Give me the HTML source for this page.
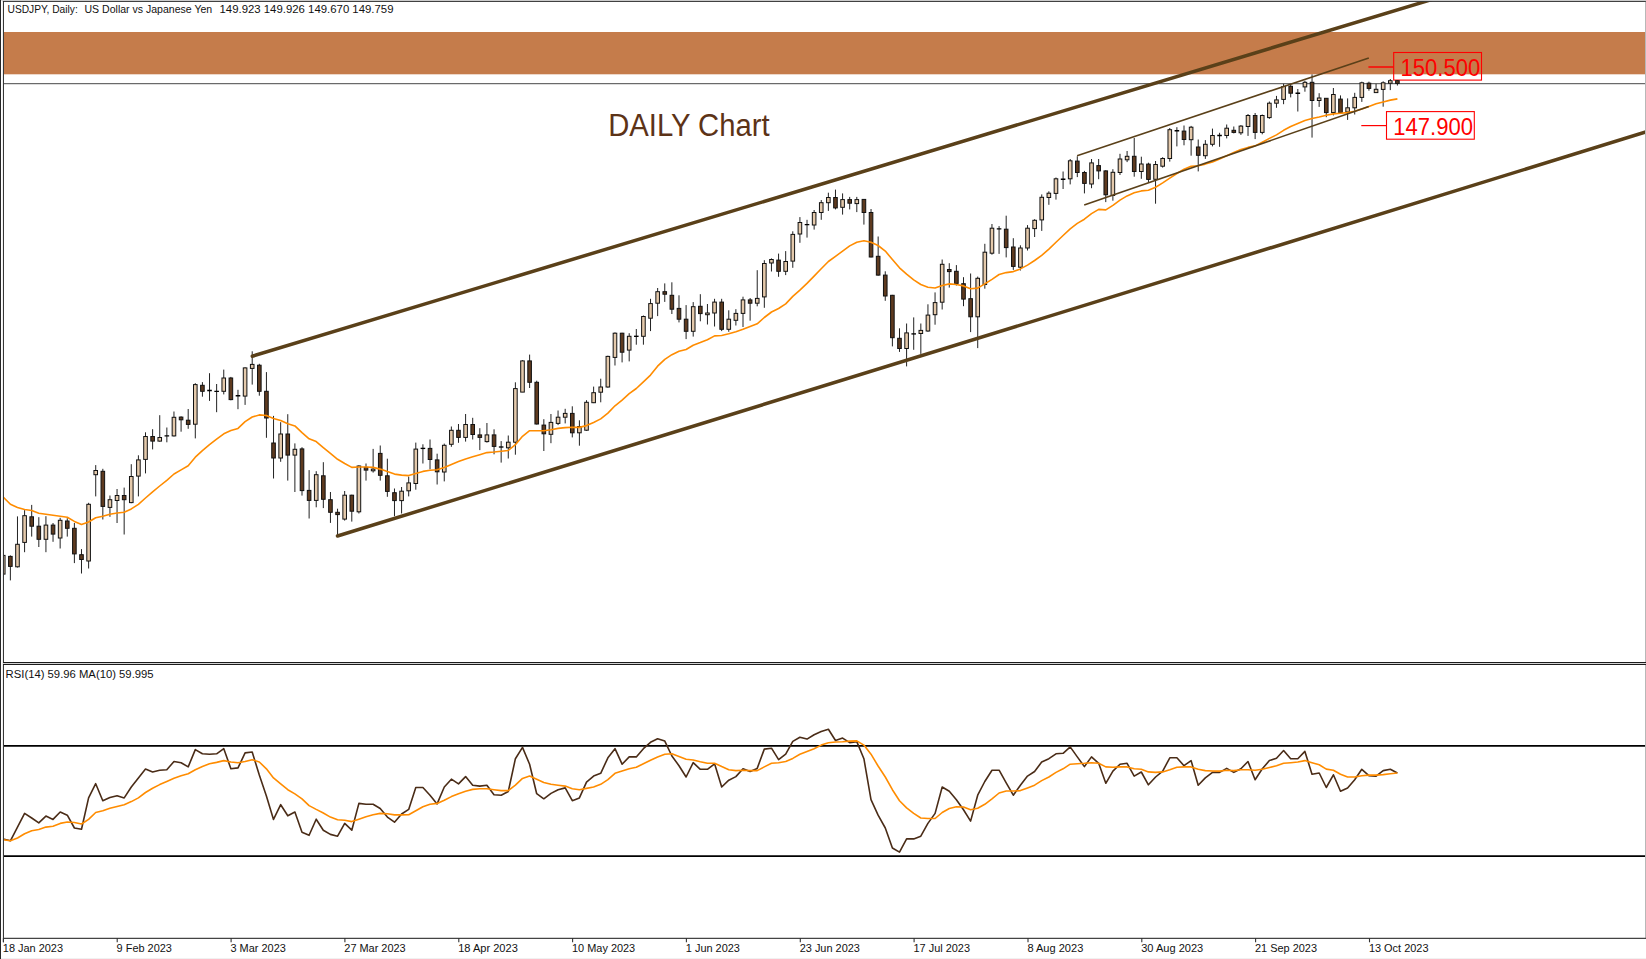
<!DOCTYPE html>
<html><head><meta charset="utf-8"><title>USDJPY Daily</title>
<style>html,body{margin:0;padding:0;background:#fff}svg{display:block}text{font-family:"Liberation Sans",sans-serif}</style></head><body>
<svg width="1646" height="959" viewBox="0 0 1646 959">
<rect width="1646" height="959" fill="#fff"/>
<defs><clipPath id="cm"><rect x="3.5" y="1.5" width="1641.7" height="660.5"/></clipPath><clipPath id="cr"><rect x="3.5" y="665" width="1641.7" height="274"/></clipPath></defs>
<rect x="4" y="32" width="1641.2" height="42.3" fill="#C57C4B"/>
<line x1="4" y1="83.7" x2="1645.2" y2="83.7" stroke="#333" stroke-width="0.9"/>
<line x1="1368.4" y1="67.0" x2="1393.4" y2="67.0" stroke="#f00" stroke-width="1.45"/>
<rect x="1393.7" y="52.5" width="87.8" height="27.6" fill="none" stroke="#f00" stroke-width="1.1"/>
<text x="1400.6" y="75.6" font-size="23.3" fill="#f00" textLength="79.6" lengthAdjust="spacingAndGlyphs">150.500</text>
<line x1="1361.3" y1="125.6" x2="1386.5" y2="125.6" stroke="#f00" stroke-width="1.2"/>
<rect x="1386.5" y="111.6" width="87.8" height="27.6" fill="none" stroke="#f00" stroke-width="1.1"/>
<text x="1393.2" y="134.6" font-size="23.3" fill="#f00" textLength="79.8" lengthAdjust="spacingAndGlyphs">147.900</text>
<g clip-path="url(#cm)">
<line x1="3.25" y1="552.0" x2="3.25" y2="577.0" stroke="#222" stroke-width="1"/>
<rect x="1.45" y="555.4" width="3.6" height="18.7" fill="#E4C9AB" stroke="#111" stroke-width="1"/>
<line x1="10.36" y1="555.4" x2="10.36" y2="580.4" stroke="#222" stroke-width="1"/>
<rect x="8.56" y="556.4" width="3.6" height="10.0" fill="#5E3A1F" stroke="#111" stroke-width="1"/>
<line x1="17.48" y1="516.4" x2="17.48" y2="567.5" stroke="#222" stroke-width="1"/>
<rect x="15.68" y="544.3" width="3.6" height="22.5" fill="#E4C9AB" stroke="#111" stroke-width="1"/>
<line x1="24.59" y1="510.1" x2="24.59" y2="552.2" stroke="#222" stroke-width="1"/>
<rect x="22.79" y="515.7" width="3.6" height="26.7" fill="#E4C9AB" stroke="#111" stroke-width="1"/>
<line x1="31.70" y1="504.9" x2="31.70" y2="536.6" stroke="#222" stroke-width="1"/>
<rect x="29.90" y="516.8" width="3.6" height="9.4" fill="#5E3A1F" stroke="#111" stroke-width="1"/>
<line x1="38.82" y1="517.2" x2="38.82" y2="547.0" stroke="#222" stroke-width="1"/>
<rect x="37.02" y="526.2" width="3.6" height="13.1" fill="#5E3A1F" stroke="#111" stroke-width="1"/>
<line x1="45.93" y1="516.2" x2="45.93" y2="552.2" stroke="#222" stroke-width="1"/>
<rect x="44.13" y="525.1" width="3.6" height="14.2" fill="#E4C9AB" stroke="#111" stroke-width="1"/>
<line x1="53.04" y1="523.0" x2="53.04" y2="541.8" stroke="#222" stroke-width="1"/>
<rect x="51.24" y="525.1" width="3.6" height="9.0" fill="#5E3A1F" stroke="#111" stroke-width="1"/>
<line x1="60.15" y1="517.8" x2="60.15" y2="548.5" stroke="#222" stroke-width="1"/>
<rect x="58.35" y="520.3" width="3.6" height="17.7" fill="#E4C9AB" stroke="#111" stroke-width="1"/>
<line x1="67.27" y1="518.2" x2="67.27" y2="536.6" stroke="#222" stroke-width="1"/>
<rect x="65.47" y="521.0" width="3.6" height="7.3" fill="#5E3A1F" stroke="#111" stroke-width="1"/>
<line x1="74.38" y1="523.0" x2="74.38" y2="563.1" stroke="#222" stroke-width="1"/>
<rect x="72.58" y="528.3" width="3.6" height="25.6" fill="#5E3A1F" stroke="#111" stroke-width="1"/>
<line x1="81.49" y1="549.1" x2="81.49" y2="573.5" stroke="#222" stroke-width="1"/>
<rect x="79.69" y="554.7" width="3.6" height="4.8" fill="#5E3A1F" stroke="#111" stroke-width="1"/>
<line x1="88.61" y1="502.8" x2="88.61" y2="568.5" stroke="#222" stroke-width="1"/>
<rect x="86.81" y="504.3" width="3.6" height="56.7" fill="#E4C9AB" stroke="#111" stroke-width="1"/>
<line x1="95.72" y1="465.1" x2="95.72" y2="496.4" stroke="#222" stroke-width="1"/>
<rect x="93.92" y="470.5" width="3.6" height="4.2" fill="#E4C9AB" stroke="#111" stroke-width="1"/>
<line x1="102.83" y1="468.8" x2="102.83" y2="519.5" stroke="#222" stroke-width="1"/>
<rect x="101.03" y="471.3" width="3.6" height="35.1" fill="#5E3A1F" stroke="#111" stroke-width="1"/>
<line x1="109.95" y1="495.5" x2="109.95" y2="516.8" stroke="#222" stroke-width="1"/>
<rect x="108.15" y="499.7" width="3.6" height="7.7" fill="#E4C9AB" stroke="#111" stroke-width="1"/>
<line x1="117.06" y1="489.0" x2="117.06" y2="523.0" stroke="#222" stroke-width="1"/>
<rect x="115.26" y="495.5" width="3.6" height="5.0" fill="#E4C9AB" stroke="#111" stroke-width="1"/>
<line x1="124.17" y1="487.6" x2="124.17" y2="534.5" stroke="#222" stroke-width="1"/>
<rect x="122.37" y="495.5" width="3.6" height="4.2" fill="#5E3A1F" stroke="#111" stroke-width="1"/>
<line x1="131.28" y1="464.2" x2="131.28" y2="503.2" stroke="#222" stroke-width="1"/>
<rect x="129.48" y="476.5" width="3.6" height="26.1" fill="#E4C9AB" stroke="#111" stroke-width="1"/>
<line x1="138.40" y1="455.3" x2="138.40" y2="496.4" stroke="#222" stroke-width="1"/>
<rect x="136.60" y="459.9" width="3.6" height="16.2" fill="#E4C9AB" stroke="#111" stroke-width="1"/>
<line x1="145.51" y1="432.3" x2="145.51" y2="473.4" stroke="#222" stroke-width="1"/>
<rect x="143.71" y="436.5" width="3.6" height="22.9" fill="#E4C9AB" stroke="#111" stroke-width="1"/>
<line x1="152.62" y1="429.2" x2="152.62" y2="449.4" stroke="#222" stroke-width="1"/>
<rect x="150.82" y="436.5" width="3.6" height="4.6" fill="#5E3A1F" stroke="#111" stroke-width="1"/>
<line x1="159.74" y1="415.2" x2="159.74" y2="441.7" stroke="#222" stroke-width="1"/>
<rect x="157.94" y="437.5" width="3.6" height="3.6" fill="#E4C9AB" stroke="#111" stroke-width="1"/>
<line x1="166.85" y1="427.5" x2="166.85" y2="442.3" stroke="#222" stroke-width="1"/>
<line x1="164.55" y1="435.9" x2="169.15" y2="435.9" stroke="#000" stroke-width="1.35"/>
<line x1="173.96" y1="411.5" x2="173.96" y2="436.5" stroke="#222" stroke-width="1"/>
<rect x="172.16" y="417.3" width="3.6" height="18.6" fill="#E4C9AB" stroke="#111" stroke-width="1"/>
<line x1="181.08" y1="416.3" x2="181.08" y2="431.7" stroke="#222" stroke-width="1"/>
<rect x="179.28" y="417.1" width="3.6" height="2.7" fill="#5E3A1F" stroke="#111" stroke-width="1"/>
<line x1="188.19" y1="409.0" x2="188.19" y2="428.8" stroke="#222" stroke-width="1"/>
<rect x="186.39" y="420.2" width="3.6" height="4.2" fill="#5E3A1F" stroke="#111" stroke-width="1"/>
<line x1="195.30" y1="383.2" x2="195.30" y2="438.4" stroke="#222" stroke-width="1"/>
<rect x="193.50" y="384.6" width="3.6" height="39.6" fill="#E4C9AB" stroke="#111" stroke-width="1"/>
<line x1="202.41" y1="382.1" x2="202.41" y2="396.7" stroke="#222" stroke-width="1"/>
<rect x="200.61" y="385.3" width="3.6" height="6.0" fill="#5E3A1F" stroke="#111" stroke-width="1"/>
<line x1="209.53" y1="373.2" x2="209.53" y2="400.9" stroke="#222" stroke-width="1"/>
<line x1="207.23" y1="390.5" x2="211.83" y2="390.5" stroke="#000" stroke-width="1.35"/>
<line x1="216.64" y1="384.0" x2="216.64" y2="412.2" stroke="#222" stroke-width="1"/>
<line x1="214.34" y1="391.3" x2="218.94" y2="391.3" stroke="#000" stroke-width="1.35"/>
<line x1="223.75" y1="369.6" x2="223.75" y2="394.4" stroke="#222" stroke-width="1"/>
<rect x="221.95" y="378.0" width="3.6" height="13.3" fill="#E4C9AB" stroke="#111" stroke-width="1"/>
<line x1="230.87" y1="376.9" x2="230.87" y2="400.3" stroke="#222" stroke-width="1"/>
<rect x="229.07" y="378.0" width="3.6" height="21.6" fill="#5E3A1F" stroke="#111" stroke-width="1"/>
<line x1="237.98" y1="389.8" x2="237.98" y2="409.2" stroke="#222" stroke-width="1"/>
<line x1="235.68" y1="395.7" x2="240.28" y2="395.7" stroke="#000" stroke-width="1.35"/>
<line x1="245.09" y1="367.3" x2="245.09" y2="404.9" stroke="#222" stroke-width="1"/>
<rect x="243.29" y="367.9" width="3.6" height="28.2" fill="#E4C9AB" stroke="#111" stroke-width="1"/>
<line x1="252.21" y1="351.3" x2="252.21" y2="384.6" stroke="#222" stroke-width="1"/>
<rect x="250.41" y="364.4" width="3.6" height="4.0" fill="#E4C9AB" stroke="#111" stroke-width="1"/>
<line x1="259.32" y1="363.8" x2="259.32" y2="395.7" stroke="#222" stroke-width="1"/>
<rect x="257.52" y="365.2" width="3.6" height="26.1" fill="#5E3A1F" stroke="#111" stroke-width="1"/>
<line x1="266.43" y1="372.1" x2="266.43" y2="437.8" stroke="#222" stroke-width="1"/>
<rect x="264.63" y="391.3" width="3.6" height="26.7" fill="#5E3A1F" stroke="#111" stroke-width="1"/>
<line x1="273.54" y1="415.9" x2="273.54" y2="478.5" stroke="#222" stroke-width="1"/>
<rect x="271.74" y="443.0" width="3.6" height="15.0" fill="#5E3A1F" stroke="#111" stroke-width="1"/>
<line x1="280.66" y1="422.2" x2="280.66" y2="461.8" stroke="#222" stroke-width="1"/>
<rect x="278.86" y="434.0" width="3.6" height="24.0" fill="#E4C9AB" stroke="#111" stroke-width="1"/>
<line x1="287.77" y1="414.2" x2="287.77" y2="480.6" stroke="#222" stroke-width="1"/>
<rect x="285.97" y="434.0" width="3.6" height="21.1" fill="#5E3A1F" stroke="#111" stroke-width="1"/>
<line x1="294.88" y1="443.4" x2="294.88" y2="492.0" stroke="#222" stroke-width="1"/>
<rect x="293.08" y="449.3" width="3.6" height="5.8" fill="#E4C9AB" stroke="#111" stroke-width="1"/>
<line x1="302.00" y1="447.2" x2="302.00" y2="495.6" stroke="#222" stroke-width="1"/>
<rect x="300.20" y="448.9" width="3.6" height="41.7" fill="#5E3A1F" stroke="#111" stroke-width="1"/>
<line x1="309.11" y1="470.1" x2="309.11" y2="518.5" stroke="#222" stroke-width="1"/>
<rect x="307.31" y="490.4" width="3.6" height="10.0" fill="#5E3A1F" stroke="#111" stroke-width="1"/>
<line x1="316.22" y1="471.2" x2="316.22" y2="507.3" stroke="#222" stroke-width="1"/>
<rect x="314.42" y="474.7" width="3.6" height="25.7" fill="#E4C9AB" stroke="#111" stroke-width="1"/>
<line x1="323.34" y1="462.2" x2="323.34" y2="508.1" stroke="#222" stroke-width="1"/>
<rect x="321.54" y="475.8" width="3.6" height="23.5" fill="#5E3A1F" stroke="#111" stroke-width="1"/>
<line x1="330.45" y1="492.0" x2="330.45" y2="522.9" stroke="#222" stroke-width="1"/>
<rect x="328.65" y="499.7" width="3.6" height="12.6" fill="#5E3A1F" stroke="#111" stroke-width="1"/>
<line x1="337.56" y1="508.7" x2="337.56" y2="535.8" stroke="#222" stroke-width="1"/>
<rect x="335.76" y="512.3" width="3.6" height="2.3" fill="#5E3A1F" stroke="#111" stroke-width="1"/>
<line x1="344.67" y1="491.0" x2="344.67" y2="520.6" stroke="#222" stroke-width="1"/>
<rect x="342.87" y="495.2" width="3.6" height="23.9" fill="#E4C9AB" stroke="#111" stroke-width="1"/>
<line x1="351.79" y1="494.7" x2="351.79" y2="521.6" stroke="#222" stroke-width="1"/>
<rect x="349.99" y="495.2" width="3.6" height="16.0" fill="#5E3A1F" stroke="#111" stroke-width="1"/>
<line x1="358.90" y1="465.3" x2="358.90" y2="513.5" stroke="#222" stroke-width="1"/>
<rect x="357.10" y="466.0" width="3.6" height="45.8" fill="#E4C9AB" stroke="#111" stroke-width="1"/>
<line x1="366.01" y1="463.5" x2="366.01" y2="480.6" stroke="#222" stroke-width="1"/>
<rect x="364.21" y="467.4" width="3.6" height="2.7" fill="#5E3A1F" stroke="#111" stroke-width="1"/>
<line x1="373.13" y1="448.9" x2="373.13" y2="472.6" stroke="#222" stroke-width="1"/>
<rect x="371.33" y="469.1" width="3.6" height="1.7" fill="#E4C9AB" stroke="#111" stroke-width="1"/>
<line x1="380.24" y1="445.5" x2="380.24" y2="480.6" stroke="#222" stroke-width="1"/>
<rect x="378.44" y="453.4" width="3.6" height="21.9" fill="#5E3A1F" stroke="#111" stroke-width="1"/>
<line x1="387.35" y1="458.7" x2="387.35" y2="496.8" stroke="#222" stroke-width="1"/>
<rect x="385.55" y="475.8" width="3.6" height="15.6" fill="#5E3A1F" stroke="#111" stroke-width="1"/>
<line x1="394.47" y1="488.5" x2="394.47" y2="516.2" stroke="#222" stroke-width="1"/>
<rect x="392.67" y="492.7" width="3.6" height="7.9" fill="#5E3A1F" stroke="#111" stroke-width="1"/>
<line x1="401.58" y1="487.0" x2="401.58" y2="513.5" stroke="#222" stroke-width="1"/>
<rect x="399.78" y="491.2" width="3.6" height="9.4" fill="#E4C9AB" stroke="#111" stroke-width="1"/>
<line x1="408.69" y1="476.6" x2="408.69" y2="496.4" stroke="#222" stroke-width="1"/>
<rect x="406.89" y="482.9" width="3.6" height="7.9" fill="#E4C9AB" stroke="#111" stroke-width="1"/>
<line x1="415.80" y1="442.6" x2="415.80" y2="489.7" stroke="#222" stroke-width="1"/>
<rect x="414.00" y="449.1" width="3.6" height="34.4" fill="#E4C9AB" stroke="#111" stroke-width="1"/>
<line x1="422.92" y1="444.3" x2="422.92" y2="463.5" stroke="#222" stroke-width="1"/>
<line x1="420.62" y1="448.4" x2="425.22" y2="448.4" stroke="#000" stroke-width="1.35"/>
<line x1="430.03" y1="439.5" x2="430.03" y2="469.3" stroke="#222" stroke-width="1"/>
<rect x="428.23" y="448.4" width="3.6" height="11.1" fill="#5E3A1F" stroke="#111" stroke-width="1"/>
<line x1="437.14" y1="453.7" x2="437.14" y2="484.5" stroke="#222" stroke-width="1"/>
<rect x="435.34" y="459.9" width="3.6" height="11.9" fill="#5E3A1F" stroke="#111" stroke-width="1"/>
<line x1="444.26" y1="443.6" x2="444.26" y2="481.4" stroke="#222" stroke-width="1"/>
<rect x="442.46" y="445.3" width="3.6" height="26.7" fill="#E4C9AB" stroke="#111" stroke-width="1"/>
<line x1="451.37" y1="426.5" x2="451.37" y2="446.8" stroke="#222" stroke-width="1"/>
<rect x="449.57" y="430.3" width="3.6" height="14.0" fill="#E4C9AB" stroke="#111" stroke-width="1"/>
<line x1="458.48" y1="424.0" x2="458.48" y2="442.8" stroke="#222" stroke-width="1"/>
<rect x="456.68" y="430.3" width="3.6" height="7.1" fill="#5E3A1F" stroke="#111" stroke-width="1"/>
<line x1="465.60" y1="414.0" x2="465.60" y2="441.6" stroke="#222" stroke-width="1"/>
<rect x="463.80" y="424.5" width="3.6" height="12.9" fill="#E4C9AB" stroke="#111" stroke-width="1"/>
<line x1="472.71" y1="417.8" x2="472.71" y2="439.5" stroke="#222" stroke-width="1"/>
<rect x="470.91" y="424.5" width="3.6" height="10.0" fill="#5E3A1F" stroke="#111" stroke-width="1"/>
<line x1="479.82" y1="428.2" x2="479.82" y2="450.1" stroke="#222" stroke-width="1"/>
<rect x="478.02" y="434.9" width="3.6" height="2.5" fill="#5E3A1F" stroke="#111" stroke-width="1"/>
<line x1="486.93" y1="423.0" x2="486.93" y2="442.6" stroke="#222" stroke-width="1"/>
<rect x="485.13" y="434.9" width="3.6" height="6.7" fill="#E4C9AB" stroke="#111" stroke-width="1"/>
<line x1="494.05" y1="429.3" x2="494.05" y2="454.3" stroke="#222" stroke-width="1"/>
<rect x="492.25" y="434.9" width="3.6" height="11.5" fill="#5E3A1F" stroke="#111" stroke-width="1"/>
<line x1="501.16" y1="441.1" x2="501.16" y2="462.6" stroke="#222" stroke-width="1"/>
<line x1="498.86" y1="447.0" x2="503.46" y2="447.0" stroke="#000" stroke-width="1.35"/>
<line x1="508.27" y1="435.5" x2="508.27" y2="458.5" stroke="#222" stroke-width="1"/>
<rect x="506.47" y="442.2" width="3.6" height="5.6" fill="#E4C9AB" stroke="#111" stroke-width="1"/>
<line x1="515.39" y1="382.3" x2="515.39" y2="454.7" stroke="#222" stroke-width="1"/>
<rect x="513.59" y="388.6" width="3.6" height="53.6" fill="#E4C9AB" stroke="#111" stroke-width="1"/>
<line x1="522.50" y1="360.2" x2="522.50" y2="392.1" stroke="#222" stroke-width="1"/>
<rect x="520.70" y="360.9" width="3.6" height="31.2" fill="#E4C9AB" stroke="#111" stroke-width="1"/>
<line x1="529.61" y1="354.6" x2="529.61" y2="388.0" stroke="#222" stroke-width="1"/>
<rect x="527.81" y="360.9" width="3.6" height="21.4" fill="#5E3A1F" stroke="#111" stroke-width="1"/>
<line x1="536.73" y1="380.7" x2="536.73" y2="424.5" stroke="#222" stroke-width="1"/>
<rect x="534.93" y="382.3" width="3.6" height="41.7" fill="#5E3A1F" stroke="#111" stroke-width="1"/>
<line x1="543.84" y1="419.2" x2="543.84" y2="451.0" stroke="#222" stroke-width="1"/>
<rect x="542.04" y="425.1" width="3.6" height="8.7" fill="#5E3A1F" stroke="#111" stroke-width="1"/>
<line x1="550.95" y1="414.0" x2="550.95" y2="443.2" stroke="#222" stroke-width="1"/>
<rect x="549.15" y="422.4" width="3.6" height="11.9" fill="#E4C9AB" stroke="#111" stroke-width="1"/>
<line x1="558.06" y1="410.5" x2="558.06" y2="425.1" stroke="#222" stroke-width="1"/>
<rect x="556.26" y="417.2" width="3.6" height="6.2" fill="#E4C9AB" stroke="#111" stroke-width="1"/>
<line x1="565.18" y1="408.8" x2="565.18" y2="423.4" stroke="#222" stroke-width="1"/>
<rect x="563.38" y="413.4" width="3.6" height="3.8" fill="#E4C9AB" stroke="#111" stroke-width="1"/>
<line x1="572.29" y1="406.3" x2="572.29" y2="437.4" stroke="#222" stroke-width="1"/>
<rect x="570.49" y="413.4" width="3.6" height="19.4" fill="#5E3A1F" stroke="#111" stroke-width="1"/>
<line x1="579.40" y1="420.3" x2="579.40" y2="445.7" stroke="#222" stroke-width="1"/>
<rect x="577.60" y="426.5" width="3.6" height="6.3" fill="#E4C9AB" stroke="#111" stroke-width="1"/>
<line x1="586.52" y1="400.2" x2="586.52" y2="430.8" stroke="#222" stroke-width="1"/>
<rect x="584.72" y="402.3" width="3.6" height="27.9" fill="#E4C9AB" stroke="#111" stroke-width="1"/>
<line x1="593.63" y1="386.6" x2="593.63" y2="403.1" stroke="#222" stroke-width="1"/>
<rect x="591.83" y="392.7" width="3.6" height="10.0" fill="#E4C9AB" stroke="#111" stroke-width="1"/>
<line x1="600.74" y1="378.7" x2="600.74" y2="402.3" stroke="#222" stroke-width="1"/>
<rect x="598.94" y="387.0" width="3.6" height="5.2" fill="#E4C9AB" stroke="#111" stroke-width="1"/>
<line x1="607.86" y1="355.7" x2="607.86" y2="387.7" stroke="#222" stroke-width="1"/>
<rect x="606.06" y="356.4" width="3.6" height="30.6" fill="#E4C9AB" stroke="#111" stroke-width="1"/>
<line x1="614.97" y1="332.4" x2="614.97" y2="365.5" stroke="#222" stroke-width="1"/>
<rect x="613.17" y="333.2" width="3.6" height="24.2" fill="#E4C9AB" stroke="#111" stroke-width="1"/>
<line x1="622.08" y1="332.8" x2="622.08" y2="362.4" stroke="#222" stroke-width="1"/>
<rect x="620.28" y="333.2" width="3.6" height="19.0" fill="#5E3A1F" stroke="#111" stroke-width="1"/>
<line x1="629.19" y1="333.2" x2="629.19" y2="361.4" stroke="#222" stroke-width="1"/>
<rect x="627.39" y="336.3" width="3.6" height="13.8" fill="#E4C9AB" stroke="#111" stroke-width="1"/>
<line x1="636.31" y1="329.0" x2="636.31" y2="344.7" stroke="#222" stroke-width="1"/>
<line x1="634.01" y1="336.3" x2="638.61" y2="336.3" stroke="#000" stroke-width="1.35"/>
<line x1="643.42" y1="315.5" x2="643.42" y2="344.7" stroke="#222" stroke-width="1"/>
<rect x="641.62" y="316.5" width="3.6" height="19.8" fill="#E4C9AB" stroke="#111" stroke-width="1"/>
<line x1="650.53" y1="298.8" x2="650.53" y2="331.1" stroke="#222" stroke-width="1"/>
<rect x="648.73" y="303.6" width="3.6" height="14.6" fill="#E4C9AB" stroke="#111" stroke-width="1"/>
<line x1="657.65" y1="288.0" x2="657.65" y2="316.1" stroke="#222" stroke-width="1"/>
<rect x="655.85" y="291.7" width="3.6" height="11.5" fill="#E4C9AB" stroke="#111" stroke-width="1"/>
<line x1="664.76" y1="283.4" x2="664.76" y2="301.9" stroke="#222" stroke-width="1"/>
<rect x="662.96" y="291.7" width="3.6" height="2.5" fill="#5E3A1F" stroke="#111" stroke-width="1"/>
<line x1="671.87" y1="282.3" x2="671.87" y2="314.0" stroke="#222" stroke-width="1"/>
<rect x="670.07" y="295.3" width="3.6" height="13.9" fill="#5E3A1F" stroke="#111" stroke-width="1"/>
<line x1="678.99" y1="295.3" x2="678.99" y2="322.4" stroke="#222" stroke-width="1"/>
<rect x="677.19" y="308.4" width="3.6" height="10.8" fill="#5E3A1F" stroke="#111" stroke-width="1"/>
<line x1="686.10" y1="305.1" x2="686.10" y2="339.1" stroke="#222" stroke-width="1"/>
<rect x="684.30" y="319.2" width="3.6" height="12.1" fill="#5E3A1F" stroke="#111" stroke-width="1"/>
<line x1="693.21" y1="302.1" x2="693.21" y2="336.6" stroke="#222" stroke-width="1"/>
<rect x="691.41" y="306.7" width="3.6" height="24.6" fill="#E4C9AB" stroke="#111" stroke-width="1"/>
<line x1="700.32" y1="294.2" x2="700.32" y2="321.3" stroke="#222" stroke-width="1"/>
<rect x="698.52" y="306.3" width="3.6" height="7.3" fill="#5E3A1F" stroke="#111" stroke-width="1"/>
<line x1="707.44" y1="304.0" x2="707.44" y2="324.5" stroke="#222" stroke-width="1"/>
<rect x="705.64" y="313.0" width="3.6" height="1.7" fill="#E4C9AB" stroke="#111" stroke-width="1"/>
<line x1="714.55" y1="298.8" x2="714.55" y2="326.5" stroke="#222" stroke-width="1"/>
<rect x="712.75" y="302.1" width="3.6" height="10.9" fill="#E4C9AB" stroke="#111" stroke-width="1"/>
<line x1="721.66" y1="298.8" x2="721.66" y2="331.1" stroke="#222" stroke-width="1"/>
<rect x="719.86" y="302.1" width="3.6" height="27.2" fill="#5E3A1F" stroke="#111" stroke-width="1"/>
<line x1="728.78" y1="310.3" x2="728.78" y2="331.8" stroke="#222" stroke-width="1"/>
<rect x="726.98" y="319.2" width="3.6" height="10.1" fill="#E4C9AB" stroke="#111" stroke-width="1"/>
<line x1="735.89" y1="309.2" x2="735.89" y2="325.5" stroke="#222" stroke-width="1"/>
<rect x="734.09" y="313.4" width="3.6" height="6.9" fill="#E4C9AB" stroke="#111" stroke-width="1"/>
<line x1="743.00" y1="296.7" x2="743.00" y2="327.0" stroke="#222" stroke-width="1"/>
<rect x="741.20" y="299.9" width="3.6" height="13.5" fill="#E4C9AB" stroke="#111" stroke-width="1"/>
<line x1="750.12" y1="298.0" x2="750.12" y2="320.7" stroke="#222" stroke-width="1"/>
<rect x="748.32" y="299.9" width="3.6" height="3.3" fill="#5E3A1F" stroke="#111" stroke-width="1"/>
<line x1="757.23" y1="270.2" x2="757.23" y2="306.3" stroke="#222" stroke-width="1"/>
<rect x="755.43" y="298.4" width="3.6" height="4.8" fill="#E4C9AB" stroke="#111" stroke-width="1"/>
<line x1="764.34" y1="260.2" x2="764.34" y2="307.8" stroke="#222" stroke-width="1"/>
<rect x="762.54" y="263.5" width="3.6" height="33.4" fill="#E4C9AB" stroke="#111" stroke-width="1"/>
<line x1="771.45" y1="258.4" x2="771.45" y2="271.5" stroke="#222" stroke-width="1"/>
<rect x="769.65" y="259.5" width="3.6" height="3.5" fill="#E4C9AB" stroke="#111" stroke-width="1"/>
<line x1="778.57" y1="253.6" x2="778.57" y2="276.8" stroke="#222" stroke-width="1"/>
<rect x="776.77" y="260.1" width="3.6" height="11.2" fill="#5E3A1F" stroke="#111" stroke-width="1"/>
<line x1="785.68" y1="251.1" x2="785.68" y2="275.1" stroke="#222" stroke-width="1"/>
<rect x="783.88" y="261.5" width="3.6" height="9.8" fill="#E4C9AB" stroke="#111" stroke-width="1"/>
<line x1="792.79" y1="231.3" x2="792.79" y2="267.8" stroke="#222" stroke-width="1"/>
<rect x="790.99" y="234.4" width="3.6" height="26.7" fill="#E4C9AB" stroke="#111" stroke-width="1"/>
<line x1="799.91" y1="217.1" x2="799.91" y2="242.8" stroke="#222" stroke-width="1"/>
<rect x="798.11" y="222.5" width="3.6" height="11.5" fill="#E4C9AB" stroke="#111" stroke-width="1"/>
<line x1="807.02" y1="219.8" x2="807.02" y2="237.6" stroke="#222" stroke-width="1"/>
<line x1="804.72" y1="224.6" x2="809.32" y2="224.6" stroke="#000" stroke-width="1.35"/>
<line x1="814.13" y1="210.0" x2="814.13" y2="229.6" stroke="#222" stroke-width="1"/>
<rect x="812.33" y="212.5" width="3.6" height="12.5" fill="#E4C9AB" stroke="#111" stroke-width="1"/>
<line x1="821.25" y1="200.0" x2="821.25" y2="219.8" stroke="#222" stroke-width="1"/>
<rect x="819.45" y="202.7" width="3.6" height="9.8" fill="#E4C9AB" stroke="#111" stroke-width="1"/>
<line x1="828.36" y1="192.7" x2="828.36" y2="210.9" stroke="#222" stroke-width="1"/>
<rect x="826.56" y="197.5" width="3.6" height="5.2" fill="#E4C9AB" stroke="#111" stroke-width="1"/>
<line x1="835.47" y1="189.6" x2="835.47" y2="209.4" stroke="#222" stroke-width="1"/>
<rect x="833.67" y="197.5" width="3.6" height="10.4" fill="#5E3A1F" stroke="#111" stroke-width="1"/>
<line x1="842.58" y1="193.4" x2="842.58" y2="214.6" stroke="#222" stroke-width="1"/>
<rect x="840.78" y="199.6" width="3.6" height="7.7" fill="#E4C9AB" stroke="#111" stroke-width="1"/>
<line x1="849.70" y1="196.9" x2="849.70" y2="209.4" stroke="#222" stroke-width="1"/>
<rect x="847.90" y="199.6" width="3.6" height="3.6" fill="#5E3A1F" stroke="#111" stroke-width="1"/>
<line x1="856.81" y1="196.9" x2="856.81" y2="212.1" stroke="#222" stroke-width="1"/>
<rect x="855.01" y="199.6" width="3.6" height="4.0" fill="#E4C9AB" stroke="#111" stroke-width="1"/>
<line x1="863.92" y1="199.0" x2="863.92" y2="224.6" stroke="#222" stroke-width="1"/>
<rect x="862.12" y="199.4" width="3.6" height="13.1" fill="#5E3A1F" stroke="#111" stroke-width="1"/>
<line x1="871.04" y1="209.0" x2="871.04" y2="257.4" stroke="#222" stroke-width="1"/>
<rect x="869.24" y="212.5" width="3.6" height="44.5" fill="#5E3A1F" stroke="#111" stroke-width="1"/>
<line x1="878.15" y1="236.5" x2="878.15" y2="275.7" stroke="#222" stroke-width="1"/>
<rect x="876.35" y="256.3" width="3.6" height="18.8" fill="#5E3A1F" stroke="#111" stroke-width="1"/>
<line x1="885.26" y1="271.3" x2="885.26" y2="300.8" stroke="#222" stroke-width="1"/>
<rect x="883.46" y="275.1" width="3.6" height="20.9" fill="#5E3A1F" stroke="#111" stroke-width="1"/>
<line x1="892.38" y1="294.9" x2="892.38" y2="346.4" stroke="#222" stroke-width="1"/>
<rect x="890.58" y="295.3" width="3.6" height="42.4" fill="#5E3A1F" stroke="#111" stroke-width="1"/>
<line x1="899.49" y1="328.3" x2="899.49" y2="351.9" stroke="#222" stroke-width="1"/>
<rect x="897.69" y="338.3" width="3.6" height="10.2" fill="#5E3A1F" stroke="#111" stroke-width="1"/>
<line x1="906.60" y1="323.5" x2="906.60" y2="366.4" stroke="#222" stroke-width="1"/>
<rect x="904.80" y="332.9" width="3.6" height="15.6" fill="#E4C9AB" stroke="#111" stroke-width="1"/>
<line x1="913.71" y1="317.4" x2="913.71" y2="349.8" stroke="#222" stroke-width="1"/>
<line x1="911.41" y1="333.9" x2="916.01" y2="333.9" stroke="#000" stroke-width="1.35"/>
<line x1="920.83" y1="323.5" x2="920.83" y2="353.9" stroke="#222" stroke-width="1"/>
<rect x="919.03" y="330.4" width="3.6" height="3.1" fill="#E4C9AB" stroke="#111" stroke-width="1"/>
<line x1="927.94" y1="304.3" x2="927.94" y2="331.8" stroke="#222" stroke-width="1"/>
<rect x="926.14" y="315.1" width="3.6" height="15.9" fill="#E4C9AB" stroke="#111" stroke-width="1"/>
<line x1="935.05" y1="292.4" x2="935.05" y2="324.7" stroke="#222" stroke-width="1"/>
<rect x="933.25" y="302.6" width="3.6" height="12.1" fill="#E4C9AB" stroke="#111" stroke-width="1"/>
<line x1="942.17" y1="259.5" x2="942.17" y2="309.5" stroke="#222" stroke-width="1"/>
<rect x="940.37" y="264.3" width="3.6" height="37.9" fill="#E4C9AB" stroke="#111" stroke-width="1"/>
<line x1="949.28" y1="263.2" x2="949.28" y2="287.6" stroke="#222" stroke-width="1"/>
<rect x="947.48" y="269.5" width="3.6" height="2.1" fill="#5E3A1F" stroke="#111" stroke-width="1"/>
<line x1="956.39" y1="265.1" x2="956.39" y2="285.5" stroke="#222" stroke-width="1"/>
<rect x="954.59" y="271.3" width="3.6" height="12.1" fill="#5E3A1F" stroke="#111" stroke-width="1"/>
<line x1="963.51" y1="277.2" x2="963.51" y2="306.2" stroke="#222" stroke-width="1"/>
<rect x="961.71" y="283.7" width="3.6" height="15.4" fill="#5E3A1F" stroke="#111" stroke-width="1"/>
<line x1="970.62" y1="273.5" x2="970.62" y2="332.1" stroke="#222" stroke-width="1"/>
<rect x="968.82" y="298.7" width="3.6" height="18.1" fill="#5E3A1F" stroke="#111" stroke-width="1"/>
<line x1="977.73" y1="276.6" x2="977.73" y2="348.1" stroke="#222" stroke-width="1"/>
<rect x="975.93" y="278.3" width="3.6" height="38.5" fill="#E4C9AB" stroke="#111" stroke-width="1"/>
<line x1="984.84" y1="243.8" x2="984.84" y2="288.7" stroke="#222" stroke-width="1"/>
<rect x="983.04" y="252.2" width="3.6" height="32.3" fill="#E4C9AB" stroke="#111" stroke-width="1"/>
<line x1="991.96" y1="224.0" x2="991.96" y2="254.7" stroke="#222" stroke-width="1"/>
<rect x="990.16" y="228.2" width="3.6" height="25.0" fill="#E4C9AB" stroke="#111" stroke-width="1"/>
<line x1="999.07" y1="226.1" x2="999.07" y2="253.9" stroke="#222" stroke-width="1"/>
<line x1="996.77" y1="228.8" x2="1001.37" y2="228.8" stroke="#000" stroke-width="1.35"/>
<line x1="1006.18" y1="215.7" x2="1006.18" y2="257.4" stroke="#222" stroke-width="1"/>
<rect x="1004.38" y="229.2" width="3.6" height="18.4" fill="#5E3A1F" stroke="#111" stroke-width="1"/>
<line x1="1013.30" y1="238.2" x2="1013.30" y2="269.9" stroke="#222" stroke-width="1"/>
<rect x="1011.50" y="247.0" width="3.6" height="19.4" fill="#5E3A1F" stroke="#111" stroke-width="1"/>
<line x1="1020.41" y1="245.3" x2="1020.41" y2="270.5" stroke="#222" stroke-width="1"/>
<rect x="1018.61" y="248.0" width="3.6" height="19.2" fill="#E4C9AB" stroke="#111" stroke-width="1"/>
<line x1="1027.52" y1="225.1" x2="1027.52" y2="250.5" stroke="#222" stroke-width="1"/>
<rect x="1025.72" y="228.2" width="3.6" height="19.8" fill="#E4C9AB" stroke="#111" stroke-width="1"/>
<line x1="1034.63" y1="219.2" x2="1034.63" y2="237.0" stroke="#222" stroke-width="1"/>
<rect x="1032.84" y="220.3" width="3.6" height="8.3" fill="#E4C9AB" stroke="#111" stroke-width="1"/>
<line x1="1041.75" y1="194.4" x2="1041.75" y2="230.9" stroke="#222" stroke-width="1"/>
<rect x="1039.95" y="197.3" width="3.6" height="22.6" fill="#E4C9AB" stroke="#111" stroke-width="1"/>
<line x1="1048.86" y1="191.3" x2="1048.86" y2="204.8" stroke="#222" stroke-width="1"/>
<rect x="1047.06" y="193.2" width="3.6" height="4.3" fill="#E4C9AB" stroke="#111" stroke-width="1"/>
<line x1="1055.97" y1="177.5" x2="1055.97" y2="199.6" stroke="#222" stroke-width="1"/>
<rect x="1054.17" y="178.8" width="3.6" height="14.6" fill="#E4C9AB" stroke="#111" stroke-width="1"/>
<line x1="1063.09" y1="171.5" x2="1063.09" y2="189.0" stroke="#222" stroke-width="1"/>
<line x1="1060.79" y1="179.2" x2="1065.39" y2="179.2" stroke="#000" stroke-width="1.35"/>
<line x1="1070.20" y1="159.0" x2="1070.20" y2="184.4" stroke="#222" stroke-width="1"/>
<rect x="1068.40" y="160.8" width="3.6" height="18.0" fill="#E4C9AB" stroke="#111" stroke-width="1"/>
<line x1="1077.31" y1="156.3" x2="1077.31" y2="177.1" stroke="#222" stroke-width="1"/>
<rect x="1075.51" y="161.1" width="3.6" height="11.4" fill="#5E3A1F" stroke="#111" stroke-width="1"/>
<line x1="1084.43" y1="170.9" x2="1084.43" y2="193.4" stroke="#222" stroke-width="1"/>
<rect x="1082.63" y="172.5" width="3.6" height="10.9" fill="#5E3A1F" stroke="#111" stroke-width="1"/>
<line x1="1091.54" y1="159.0" x2="1091.54" y2="188.2" stroke="#222" stroke-width="1"/>
<rect x="1089.74" y="162.9" width="3.6" height="21.1" fill="#E4C9AB" stroke="#111" stroke-width="1"/>
<line x1="1098.65" y1="159.0" x2="1098.65" y2="179.2" stroke="#222" stroke-width="1"/>
<rect x="1096.85" y="165.6" width="3.6" height="5.3" fill="#5E3A1F" stroke="#111" stroke-width="1"/>
<line x1="1105.77" y1="170.2" x2="1105.77" y2="202.1" stroke="#222" stroke-width="1"/>
<rect x="1103.97" y="170.9" width="3.6" height="23.9" fill="#5E3A1F" stroke="#111" stroke-width="1"/>
<line x1="1112.88" y1="169.2" x2="1112.88" y2="200.7" stroke="#222" stroke-width="1"/>
<rect x="1111.08" y="172.3" width="3.6" height="23.2" fill="#E4C9AB" stroke="#111" stroke-width="1"/>
<line x1="1119.99" y1="153.8" x2="1119.99" y2="175.0" stroke="#222" stroke-width="1"/>
<rect x="1118.19" y="159.0" width="3.6" height="13.5" fill="#E4C9AB" stroke="#111" stroke-width="1"/>
<line x1="1127.10" y1="151.0" x2="1127.10" y2="162.1" stroke="#222" stroke-width="1"/>
<rect x="1125.30" y="156.3" width="3.6" height="3.5" fill="#E4C9AB" stroke="#111" stroke-width="1"/>
<line x1="1134.22" y1="138.0" x2="1134.22" y2="176.7" stroke="#222" stroke-width="1"/>
<rect x="1132.42" y="156.3" width="3.6" height="15.2" fill="#5E3A1F" stroke="#111" stroke-width="1"/>
<line x1="1141.33" y1="156.7" x2="1141.33" y2="178.8" stroke="#222" stroke-width="1"/>
<rect x="1139.53" y="164.0" width="3.6" height="7.5" fill="#E4C9AB" stroke="#111" stroke-width="1"/>
<line x1="1148.44" y1="162.7" x2="1148.44" y2="182.6" stroke="#222" stroke-width="1"/>
<rect x="1146.64" y="164.1" width="3.6" height="15.3" fill="#5E3A1F" stroke="#111" stroke-width="1"/>
<line x1="1155.56" y1="161.0" x2="1155.56" y2="203.7" stroke="#222" stroke-width="1"/>
<rect x="1153.76" y="164.5" width="3.6" height="14.8" fill="#E4C9AB" stroke="#111" stroke-width="1"/>
<line x1="1162.67" y1="157.2" x2="1162.67" y2="167.6" stroke="#222" stroke-width="1"/>
<rect x="1160.87" y="158.5" width="3.6" height="7.7" fill="#E4C9AB" stroke="#111" stroke-width="1"/>
<line x1="1169.78" y1="128.0" x2="1169.78" y2="161.6" stroke="#222" stroke-width="1"/>
<rect x="1167.98" y="129.7" width="3.6" height="28.8" fill="#E4C9AB" stroke="#111" stroke-width="1"/>
<line x1="1176.89" y1="127.2" x2="1176.89" y2="146.4" stroke="#222" stroke-width="1"/>
<line x1="1174.60" y1="130.7" x2="1179.19" y2="130.7" stroke="#000" stroke-width="1.35"/>
<line x1="1184.01" y1="125.5" x2="1184.01" y2="145.3" stroke="#222" stroke-width="1"/>
<rect x="1182.21" y="131.1" width="3.6" height="8.4" fill="#5E3A1F" stroke="#111" stroke-width="1"/>
<line x1="1191.12" y1="125.9" x2="1191.12" y2="155.7" stroke="#222" stroke-width="1"/>
<rect x="1189.32" y="127.2" width="3.6" height="12.5" fill="#E4C9AB" stroke="#111" stroke-width="1"/>
<line x1="1198.23" y1="139.5" x2="1198.23" y2="171.4" stroke="#222" stroke-width="1"/>
<rect x="1196.43" y="147.0" width="3.6" height="8.3" fill="#5E3A1F" stroke="#111" stroke-width="1"/>
<line x1="1205.35" y1="140.1" x2="1205.35" y2="158.9" stroke="#222" stroke-width="1"/>
<rect x="1203.55" y="144.3" width="3.6" height="11.4" fill="#E4C9AB" stroke="#111" stroke-width="1"/>
<line x1="1212.46" y1="128.6" x2="1212.46" y2="146.4" stroke="#222" stroke-width="1"/>
<rect x="1210.66" y="135.5" width="3.6" height="8.8" fill="#E4C9AB" stroke="#111" stroke-width="1"/>
<line x1="1219.57" y1="132.8" x2="1219.57" y2="146.8" stroke="#222" stroke-width="1"/>
<line x1="1217.27" y1="135.5" x2="1221.87" y2="135.5" stroke="#000" stroke-width="1.35"/>
<line x1="1226.69" y1="124.5" x2="1226.69" y2="138.4" stroke="#222" stroke-width="1"/>
<rect x="1224.89" y="128.2" width="3.6" height="7.3" fill="#E4C9AB" stroke="#111" stroke-width="1"/>
<line x1="1233.80" y1="126.5" x2="1233.80" y2="133.4" stroke="#222" stroke-width="1"/>
<rect x="1232.00" y="130.3" width="3.6" height="2.1" fill="#5E3A1F" stroke="#111" stroke-width="1"/>
<line x1="1240.91" y1="125.1" x2="1240.91" y2="134.9" stroke="#222" stroke-width="1"/>
<rect x="1239.11" y="126.1" width="3.6" height="6.7" fill="#E4C9AB" stroke="#111" stroke-width="1"/>
<line x1="1248.03" y1="114.0" x2="1248.03" y2="135.9" stroke="#222" stroke-width="1"/>
<rect x="1246.23" y="115.5" width="3.6" height="11.0" fill="#E4C9AB" stroke="#111" stroke-width="1"/>
<line x1="1255.14" y1="113.0" x2="1255.14" y2="139.1" stroke="#222" stroke-width="1"/>
<rect x="1253.34" y="115.5" width="3.6" height="16.9" fill="#5E3A1F" stroke="#111" stroke-width="1"/>
<line x1="1262.25" y1="114.5" x2="1262.25" y2="134.3" stroke="#222" stroke-width="1"/>
<rect x="1260.45" y="115.5" width="3.6" height="16.9" fill="#E4C9AB" stroke="#111" stroke-width="1"/>
<line x1="1269.36" y1="101.5" x2="1269.36" y2="118.8" stroke="#222" stroke-width="1"/>
<rect x="1267.56" y="103.2" width="3.6" height="14.4" fill="#E4C9AB" stroke="#111" stroke-width="1"/>
<line x1="1276.48" y1="95.9" x2="1276.48" y2="107.8" stroke="#222" stroke-width="1"/>
<rect x="1274.68" y="99.9" width="3.6" height="3.3" fill="#E4C9AB" stroke="#111" stroke-width="1"/>
<line x1="1283.59" y1="83.8" x2="1283.59" y2="104.2" stroke="#222" stroke-width="1"/>
<rect x="1281.79" y="86.5" width="3.6" height="12.9" fill="#E4C9AB" stroke="#111" stroke-width="1"/>
<line x1="1290.70" y1="84.8" x2="1290.70" y2="97.4" stroke="#222" stroke-width="1"/>
<rect x="1288.90" y="86.3" width="3.6" height="6.9" fill="#5E3A1F" stroke="#111" stroke-width="1"/>
<line x1="1297.82" y1="89.0" x2="1297.82" y2="111.5" stroke="#222" stroke-width="1"/>
<line x1="1295.52" y1="93.2" x2="1300.12" y2="93.2" stroke="#000" stroke-width="1.35"/>
<line x1="1304.93" y1="80.7" x2="1304.93" y2="91.7" stroke="#222" stroke-width="1"/>
<rect x="1303.13" y="82.3" width="3.6" height="4.6" fill="#E4C9AB" stroke="#111" stroke-width="1"/>
<line x1="1312.04" y1="74.4" x2="1312.04" y2="137.6" stroke="#222" stroke-width="1"/>
<rect x="1310.24" y="82.3" width="3.6" height="18.2" fill="#5E3A1F" stroke="#111" stroke-width="1"/>
<line x1="1319.15" y1="93.2" x2="1319.15" y2="106.9" stroke="#222" stroke-width="1"/>
<rect x="1317.36" y="98.0" width="3.6" height="2.5" fill="#E4C9AB" stroke="#111" stroke-width="1"/>
<line x1="1326.27" y1="98.0" x2="1326.27" y2="117.2" stroke="#222" stroke-width="1"/>
<rect x="1324.47" y="98.3" width="3.6" height="14.3" fill="#5E3A1F" stroke="#111" stroke-width="1"/>
<line x1="1333.38" y1="88.0" x2="1333.38" y2="115.4" stroke="#222" stroke-width="1"/>
<rect x="1331.58" y="94.5" width="3.6" height="18.1" fill="#E4C9AB" stroke="#111" stroke-width="1"/>
<line x1="1340.49" y1="95.4" x2="1340.49" y2="113.4" stroke="#222" stroke-width="1"/>
<rect x="1338.69" y="99.1" width="3.6" height="13.5" fill="#5E3A1F" stroke="#111" stroke-width="1"/>
<line x1="1347.61" y1="98.4" x2="1347.61" y2="119.9" stroke="#222" stroke-width="1"/>
<rect x="1345.81" y="107.8" width="3.6" height="4.2" fill="#E4C9AB" stroke="#111" stroke-width="1"/>
<line x1="1354.72" y1="92.8" x2="1354.72" y2="114.5" stroke="#222" stroke-width="1"/>
<rect x="1352.92" y="97.4" width="3.6" height="10.4" fill="#E4C9AB" stroke="#111" stroke-width="1"/>
<line x1="1361.83" y1="81.7" x2="1361.83" y2="101.9" stroke="#222" stroke-width="1"/>
<rect x="1360.03" y="82.8" width="3.6" height="14.6" fill="#E4C9AB" stroke="#111" stroke-width="1"/>
<line x1="1368.95" y1="81.7" x2="1368.95" y2="90.7" stroke="#222" stroke-width="1"/>
<rect x="1367.15" y="83.2" width="3.6" height="5.2" fill="#5E3A1F" stroke="#111" stroke-width="1"/>
<line x1="1376.06" y1="83.8" x2="1376.06" y2="92.8" stroke="#222" stroke-width="1"/>
<rect x="1374.26" y="89.3" width="3.6" height="3.3" fill="#E4C9AB" stroke="#111" stroke-width="1"/>
<line x1="1383.17" y1="81.3" x2="1383.17" y2="106.7" stroke="#222" stroke-width="1"/>
<rect x="1381.37" y="82.8" width="3.6" height="6.6" fill="#E4C9AB" stroke="#111" stroke-width="1"/>
<line x1="1390.29" y1="79.0" x2="1390.29" y2="90.1" stroke="#222" stroke-width="1"/>
<rect x="1388.49" y="80.7" width="3.6" height="2.5" fill="#E4C9AB" stroke="#111" stroke-width="1"/>
<line x1="1397.40" y1="80.3" x2="1397.40" y2="85.5" stroke="#222" stroke-width="1"/>
<rect x="1395.60" y="80.7" width="3.6" height="2.7" fill="#5E3A1F" stroke="#111" stroke-width="1"/>
<polyline points="3.2,497.0 10.4,504.3 17.5,507.4 24.6,509.5 31.7,510.5 38.8,513.2 45.9,514.3 53.0,515.3 60.2,516.3 67.3,517.2 74.4,521.4 81.5,524.5 88.6,522.0 95.7,517.8 102.8,516.2 109.9,514.3 117.1,513.0 124.2,512.2 131.3,508.9 138.4,504.3 145.5,498.0 152.6,491.8 159.7,486.0 166.8,480.3 174.0,474.0 181.1,469.9 188.2,465.7 195.3,457.2 202.4,450.6 209.5,444.7 216.6,439.2 223.8,433.8 230.9,430.6 238.0,428.4 245.1,421.7 252.2,417.0 259.3,414.9 266.4,415.5 273.5,418.4 280.7,420.5 287.8,423.8 294.9,425.9 302.0,432.6 309.1,438.8 316.2,441.6 323.3,447.6 330.4,453.4 337.6,459.3 344.7,463.5 351.8,467.4 358.9,467.0 366.0,467.0 373.1,467.4 380.2,469.1 387.4,471.5 394.5,474.1 401.6,475.1 408.7,475.6 415.8,473.5 422.9,471.4 430.0,470.3 437.1,469.7 444.3,467.6 451.4,464.5 458.5,461.6 465.6,458.9 472.7,456.8 479.8,454.7 486.9,452.6 494.0,452.0 501.2,451.2 508.3,450.5 515.4,444.7 522.5,436.3 529.6,430.7 536.7,430.7 543.8,430.7 551.0,429.7 558.1,428.4 565.2,427.6 572.3,427.2 579.4,427.4 586.5,425.6 593.6,422.5 600.7,418.9 607.9,413.1 615.0,405.8 622.1,400.2 629.2,393.7 636.3,388.5 643.4,381.8 650.5,375.1 657.6,366.2 664.8,359.3 671.9,354.7 679.0,351.2 686.1,349.5 693.2,345.3 700.3,342.6 707.4,339.7 714.6,335.9 721.7,335.5 728.8,333.8 735.9,331.8 743.0,329.3 750.1,326.5 757.2,323.8 764.3,317.5 771.5,312.0 778.6,308.5 785.7,303.9 792.8,296.4 799.9,290.1 807.0,283.4 814.1,276.1 821.2,268.8 828.4,261.5 835.5,256.3 842.6,251.1 849.7,245.9 856.8,242.2 863.9,240.7 871.0,242.2 878.1,245.5 885.3,251.1 892.4,259.5 899.5,267.8 906.6,274.1 913.7,279.9 920.8,284.5 927.9,287.2 935.1,288.0 942.2,285.5 949.3,283.9 956.4,284.5 963.5,285.9 970.6,288.7 977.7,288.1 984.8,283.9 992.0,279.3 999.1,274.5 1006.2,272.6 1013.3,271.6 1020.4,268.9 1027.5,265.1 1034.6,260.5 1041.7,255.3 1048.9,249.1 1056.0,242.2 1063.1,235.5 1070.2,228.8 1077.3,223.4 1084.4,219.2 1091.5,213.6 1098.7,209.4 1105.8,209.9 1112.9,205.3 1120.0,200.1 1127.1,195.9 1134.2,192.8 1141.3,190.9 1148.4,190.3 1155.6,187.2 1162.7,182.9 1169.8,178.1 1176.9,173.5 1184.0,169.3 1191.1,166.2 1198.2,165.8 1205.3,164.1 1212.5,162.0 1219.6,158.9 1226.7,155.7 1233.8,152.6 1240.9,149.5 1248.0,147.4 1255.1,145.9 1262.3,142.2 1269.4,138.4 1276.5,134.9 1283.6,130.3 1290.7,126.5 1297.8,123.4 1304.9,120.6 1312.0,118.5 1319.2,117.0 1326.3,115.3 1333.4,113.9 1340.5,113.3 1347.6,112.6 1354.7,111.2 1361.8,109.0 1368.9,106.6 1376.1,103.8 1383.2,101.9 1390.3,100.1 1397.4,98.9" fill="none" stroke="#FF8C00" stroke-width="1.6" stroke-linejoin="round"/>
<line x1="252.3" y1="356.2" x2="1450.0" y2="-6.0" stroke="#5A4019" stroke-width="3.5" stroke-linecap="round"/>
<line x1="337.5" y1="536.0" x2="1650.0" y2="130.7" stroke="#5A4019" stroke-width="3.5" stroke-linecap="round"/>
<line x1="1077.1" y1="155.8" x2="1368.8" y2="58.0" stroke="#5A4019" stroke-width="1.6" stroke-linecap="butt"/>
<line x1="1084.2" y1="205.0" x2="1368.8" y2="106.6" stroke="#5A4019" stroke-width="1.6" stroke-linecap="butt"/>
</g>
<text x="608.2" y="135.7" font-size="31" fill="#5C3317" textLength="161.4" lengthAdjust="spacingAndGlyphs">DAILY Chart</text>
<text x="7.5" y="12.9" font-size="10.4" fill="#111" textLength="70.3" lengthAdjust="spacingAndGlyphs">USDJPY, Daily:</text>
<text x="84.5" y="12.9" font-size="10.4" fill="#111" textLength="127.7" lengthAdjust="spacingAndGlyphs">US Dollar vs Japanese Yen</text>
<text x="219.5" y="12.9" font-size="10.4" fill="#111" textLength="174" lengthAdjust="spacingAndGlyphs">149.923 149.926 149.670 149.759</text>
<text x="5.6" y="677.6" font-size="10" fill="#111" textLength="148" lengthAdjust="spacingAndGlyphs">RSI(14) 59.96 MA(10) 59.995</text>
<line x1="4" y1="745.9" x2="1645.2" y2="745.9" stroke="#000" stroke-width="1.7"/>
<line x1="4" y1="856.1" x2="1645.2" y2="856.1" stroke="#000" stroke-width="1.7"/>
<g clip-path="url(#cr)">
<polyline points="3.2,838.9 10.4,840.8 17.5,827.1 24.6,813.4 31.7,818.0 38.8,822.9 45.9,816.1 53.0,819.4 60.2,812.0 67.3,815.2 74.4,828.0 81.5,829.3 88.6,797.9 95.7,783.7 102.8,800.7 109.9,797.6 117.1,795.7 124.2,797.9 131.3,787.0 138.4,777.9 145.5,769.1 152.6,772.0 159.7,770.2 166.8,769.7 174.0,761.5 181.1,762.7 188.2,766.9 195.3,749.6 202.4,753.8 209.5,754.2 216.6,753.8 223.8,748.7 230.9,768.8 238.0,767.9 245.1,752.9 252.2,752.0 259.3,775.1 266.4,796.1 273.5,819.4 280.7,804.7 287.8,815.8 294.9,812.0 302.0,832.2 309.1,835.3 316.2,819.2 323.3,830.2 330.4,834.4 337.6,836.2 344.7,823.4 351.8,830.2 358.9,803.4 366.0,804.3 373.1,804.3 380.2,808.5 387.4,817.1 394.5,822.2 401.6,814.0 408.7,809.4 415.8,787.5 422.9,787.5 430.0,795.2 437.1,803.9 444.3,787.0 451.4,779.2 458.5,783.9 465.6,776.6 472.7,785.2 479.8,786.1 486.9,785.2 494.0,794.8 501.2,795.2 508.3,791.5 515.4,758.7 522.5,747.4 529.6,764.2 536.7,793.7 543.8,798.8 551.0,793.4 558.1,789.7 565.2,787.9 572.3,800.7 579.4,797.9 586.5,782.2 593.6,776.1 600.7,773.3 607.9,757.8 615.0,748.7 622.1,764.2 629.2,756.9 636.3,756.9 643.4,748.7 650.5,742.3 657.6,738.7 664.8,741.1 671.9,756.0 679.0,765.7 686.1,777.0 693.2,762.7 700.3,769.3 707.4,769.3 714.6,763.8 721.7,787.0 728.8,780.2 735.9,776.6 743.0,768.8 750.1,771.5 757.2,768.4 764.3,749.1 771.5,748.2 778.6,759.7 785.7,754.2 792.8,741.4 799.9,737.2 807.0,739.1 814.1,734.7 821.2,731.4 828.4,729.2 835.5,740.5 842.6,738.1 849.7,742.7 856.8,741.6 863.9,758.7 871.0,799.7 878.1,815.2 885.3,828.0 892.4,848.0 899.5,852.1 906.6,838.9 913.7,838.9 920.8,836.2 927.9,823.4 935.1,813.4 942.2,787.0 949.3,791.2 956.4,799.7 963.5,809.8 970.6,821.1 977.7,795.2 984.8,781.5 992.0,770.2 999.1,770.2 1006.2,782.8 1013.3,795.2 1020.4,785.2 1027.5,776.1 1034.6,771.5 1041.7,762.0 1048.9,758.7 1056.0,753.8 1063.1,753.3 1070.2,746.9 1077.3,756.9 1084.4,766.6 1091.5,756.9 1098.7,763.3 1105.8,783.3 1112.9,771.1 1120.0,764.2 1127.1,763.3 1134.2,776.1 1141.3,772.0 1148.4,784.8 1155.6,777.0 1162.7,771.1 1169.8,757.8 1176.9,757.8 1184.0,765.7 1191.1,760.6 1198.2,785.2 1205.3,777.9 1212.5,772.4 1219.6,772.4 1226.7,768.4 1233.8,772.4 1240.9,768.8 1248.0,761.5 1255.1,779.7 1262.3,768.8 1269.4,760.6 1276.5,758.2 1283.6,750.5 1290.7,758.7 1297.8,758.7 1304.9,751.4 1312.0,774.2 1319.2,773.0 1326.3,787.5 1333.4,774.8 1340.5,791.2 1347.6,787.9 1354.7,779.7 1361.8,769.3 1368.9,775.7 1376.1,776.1 1383.2,770.6 1390.3,769.3 1397.4,773.0" fill="none" stroke="#4A2C17" stroke-width="1.6" stroke-linejoin="round"/>
<polyline points="3.2,839.8 10.4,840.8 17.5,838.0 24.6,833.8 31.7,830.7 38.8,829.5 45.9,827.1 53.0,826.2 60.2,823.4 67.3,822.0 74.4,822.5 81.5,824.0 88.6,819.4 95.7,812.5 102.8,810.7 109.9,808.3 117.1,806.5 124.2,804.7 131.3,801.6 138.4,797.9 145.5,792.5 152.6,788.3 159.7,784.6 166.8,781.5 174.0,778.2 181.1,775.7 188.2,773.7 195.3,769.7 202.4,766.6 209.5,763.8 216.6,762.4 223.8,760.6 230.9,762.0 238.0,762.7 245.1,761.5 252.2,759.7 259.3,762.0 266.4,768.8 273.5,777.9 280.7,783.9 287.8,789.7 294.9,793.9 302.0,798.8 309.1,805.6 316.2,809.4 323.3,813.0 330.4,817.1 337.6,819.8 344.7,820.3 351.8,821.6 358.9,819.2 366.0,816.7 373.1,814.7 380.2,813.4 387.4,813.8 394.5,814.9 401.6,814.9 408.7,814.7 415.8,810.7 422.9,806.7 430.0,804.3 437.1,803.4 444.3,800.3 451.4,796.6 458.5,793.7 465.6,791.2 472.7,789.4 479.8,788.8 486.9,788.8 494.0,789.7 501.2,790.6 508.3,790.6 515.4,785.2 522.5,778.4 529.6,776.1 536.7,779.2 543.8,782.4 551.0,784.3 558.1,785.2 565.2,786.1 572.3,788.8 579.4,789.7 586.5,788.4 593.6,787.0 600.7,784.3 607.9,779.7 615.0,773.3 622.1,771.1 629.2,768.8 636.3,767.3 643.4,763.8 650.5,760.2 657.6,756.9 664.8,754.2 671.9,753.8 679.0,756.6 686.1,759.3 693.2,760.0 700.3,761.8 707.4,763.3 714.6,763.3 721.7,766.6 728.8,769.7 735.9,770.6 743.0,770.2 750.1,770.6 757.2,770.6 764.3,766.9 771.5,763.3 778.6,762.7 785.7,761.5 792.8,758.4 799.9,754.2 807.0,751.4 814.1,748.7 821.2,745.1 828.4,742.7 835.5,742.0 842.6,741.8 849.7,741.1 856.8,740.9 863.9,745.1 871.0,754.2 878.1,766.0 885.3,777.0 892.4,789.7 899.5,800.7 906.6,807.9 913.7,813.4 920.8,818.0 927.9,818.5 935.1,818.5 942.2,812.5 949.3,808.5 956.4,806.7 963.5,807.0 970.6,809.8 977.7,808.3 984.8,804.3 992.0,798.8 999.1,793.0 1006.2,791.0 1013.3,791.0 1020.4,790.6 1027.5,787.9 1034.6,785.2 1041.7,780.6 1048.9,777.0 1056.0,772.4 1063.1,768.8 1070.2,764.2 1077.3,763.7 1084.4,763.3 1091.5,762.7 1098.7,763.3 1105.8,766.9 1112.9,767.3 1120.0,766.9 1127.1,766.9 1134.2,768.8 1141.3,769.3 1148.4,771.9 1155.6,772.4 1162.7,771.9 1169.8,769.7 1176.9,767.3 1184.0,766.9 1191.1,766.9 1198.2,769.3 1205.3,770.6 1212.5,771.0 1219.6,771.1 1226.7,770.2 1233.8,770.6 1240.9,769.7 1248.0,769.7 1255.1,770.2 1262.3,769.3 1269.4,767.5 1276.5,765.7 1283.6,763.3 1290.7,762.7 1297.8,762.0 1304.9,760.6 1312.0,762.7 1319.2,764.8 1326.3,769.1 1333.4,770.2 1340.5,774.2 1347.6,777.0 1354.7,777.0 1361.8,775.7 1368.9,775.1 1376.1,775.1 1383.2,774.6 1390.3,773.7 1397.4,773.0" fill="none" stroke="#FF8C00" stroke-width="1.6" stroke-linejoin="round"/>
</g>
<line x1="0.45" y1="0" x2="0.45" y2="959" stroke="#000" stroke-width="0.9"/>
<line x1="3.45" y1="1" x2="3.45" y2="942.3" stroke="#333" stroke-width="1.05"/>
<rect x="1.1" y="0" width="1645" height="1" fill="#d6d6d6"/><line x1="2.9" y1="1.45" x2="1646" y2="1.45" stroke="#2a2a2a" stroke-width="0.95"/>
<line x1="1645.5" y1="1.9" x2="1645.5" y2="938" stroke="#b8b8b8" stroke-width="1"/>
<rect x="3" y="662.9" width="1643" height="1.2" fill="#d2d2d2"/>
<line x1="3" y1="662.45" x2="1646" y2="662.45" stroke="#1c1c1c" stroke-width="1.05"/>
<line x1="3" y1="664.55" x2="1646" y2="664.55" stroke="#1c1c1c" stroke-width="1.05"/>
<line x1="3" y1="938.3" x2="1646" y2="938.3" stroke="#444" stroke-width="1.2"/><rect x="1.2" y="958" width="1645" height="1" fill="#f1f1f1"/>
<line x1="3.4" y1="938" x2="3.4" y2="942.3" stroke="#333" stroke-width="1.1"/>
<text x="2.8" y="951.9" font-size="10.7" fill="#111" textLength="60.2" lengthAdjust="spacingAndGlyphs">18 Jan 2023</text>
<line x1="117.2" y1="938" x2="117.2" y2="942.3" stroke="#333" stroke-width="1.1"/>
<text x="116.6" y="951.9" font-size="10.7" fill="#111" textLength="55.3" lengthAdjust="spacingAndGlyphs">9 Feb 2023</text>
<line x1="231.1" y1="938" x2="231.1" y2="942.3" stroke="#333" stroke-width="1.1"/>
<text x="230.5" y="951.9" font-size="10.7" fill="#111" textLength="55.3" lengthAdjust="spacingAndGlyphs">3 Mar 2023</text>
<line x1="344.9" y1="938" x2="344.9" y2="942.3" stroke="#333" stroke-width="1.1"/>
<text x="344.3" y="951.9" font-size="10.7" fill="#111" textLength="61.4" lengthAdjust="spacingAndGlyphs">27 Mar 2023</text>
<line x1="458.8" y1="938" x2="458.8" y2="942.3" stroke="#333" stroke-width="1.1"/>
<text x="458.2" y="951.9" font-size="10.7" fill="#111" textLength="59.6" lengthAdjust="spacingAndGlyphs">18 Apr 2023</text>
<line x1="572.6" y1="938" x2="572.6" y2="942.3" stroke="#333" stroke-width="1.1"/>
<text x="572.0" y="951.9" font-size="10.7" fill="#111" textLength="63.2" lengthAdjust="spacingAndGlyphs">10 May 2023</text>
<line x1="686.4" y1="938" x2="686.4" y2="942.3" stroke="#333" stroke-width="1.1"/>
<text x="685.8" y="951.9" font-size="10.7" fill="#111" textLength="54.1" lengthAdjust="spacingAndGlyphs">1 Jun 2023</text>
<line x1="800.3" y1="938" x2="800.3" y2="942.3" stroke="#333" stroke-width="1.1"/>
<text x="799.7" y="951.9" font-size="10.7" fill="#111" textLength="60.2" lengthAdjust="spacingAndGlyphs">23 Jun 2023</text>
<line x1="914.1" y1="938" x2="914.1" y2="942.3" stroke="#333" stroke-width="1.1"/>
<text x="913.5" y="951.9" font-size="10.7" fill="#111" textLength="56.5" lengthAdjust="spacingAndGlyphs">17 Jul 2023</text>
<line x1="1028.0" y1="938" x2="1028.0" y2="942.3" stroke="#333" stroke-width="1.1"/>
<text x="1027.4" y="951.9" font-size="10.7" fill="#111" textLength="55.9" lengthAdjust="spacingAndGlyphs">8 Aug 2023</text>
<line x1="1141.8" y1="938" x2="1141.8" y2="942.3" stroke="#333" stroke-width="1.1"/>
<text x="1141.2" y="951.9" font-size="10.7" fill="#111" textLength="62.0" lengthAdjust="spacingAndGlyphs">30 Aug 2023</text>
<line x1="1255.6" y1="938" x2="1255.6" y2="942.3" stroke="#333" stroke-width="1.1"/>
<text x="1255.0" y="951.9" font-size="10.7" fill="#111" textLength="62.0" lengthAdjust="spacingAndGlyphs">21 Sep 2023</text>
<line x1="1369.5" y1="938" x2="1369.5" y2="942.3" stroke="#333" stroke-width="1.1"/>
<text x="1368.9" y="951.9" font-size="10.7" fill="#111" textLength="59.6" lengthAdjust="spacingAndGlyphs">13 Oct 2023</text>
</svg></body></html>
